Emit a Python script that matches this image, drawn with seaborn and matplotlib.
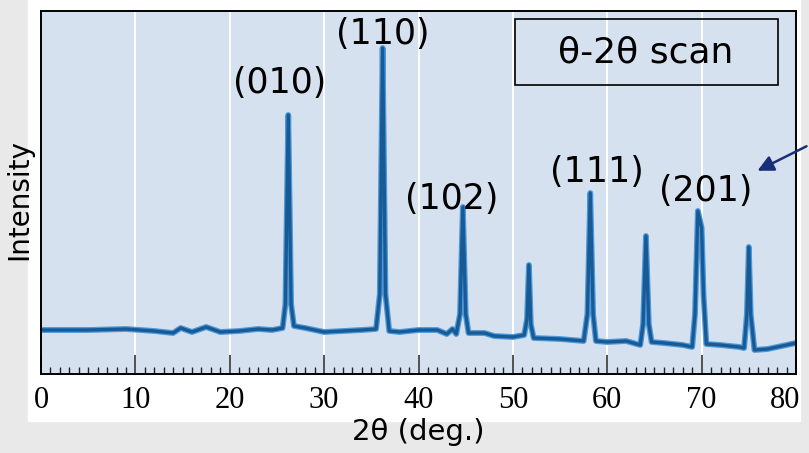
import matplotlib
matplotlib.use("Agg")
import matplotlib.pyplot as plt
import matplotlib.patheffects as pe
from matplotlib.patches import Rectangle
from matplotlib.ticker import MultipleLocator
import seaborn as sns

# XRD pattern (2theta in deg, intensity in arbitrary units)
two_theta = [0, 5, 9, 12, 14, 14.8, 16, 17.5, 19, 21, 23, 24.5, 25.6, 25.9, 26.2, 26.5, 26.8,
             28, 30, 32, 34, 35.5, 35.9, 36.2, 36.5, 36.9, 38, 40, 42, 43, 43.6, 44.0, 44.4,
             44.7, 45.0, 45.3, 47, 48, 50, 51.2, 51.5, 51.7, 51.9, 52.2, 55, 57.5, 57.9, 58.2,
             58.5, 58.8, 60, 62, 63.5, 63.8, 64.1, 64.4, 64.7, 66, 68, 69.0, 69.3, 69.6, 70.0,
             70.2, 70.5, 72, 74, 74.5, 74.8, 75.0, 75.2, 75.6, 77, 80]
intensity = [44, 44, 45, 43, 41, 46, 42, 47, 42, 43, 45, 44, 46, 70, 259, 70, 48,
             46, 42, 43, 44, 45, 80, 326, 80, 43, 42, 44, 44, 40, 45, 40, 60,
             167, 60, 41, 41, 38, 37, 39, 55, 109, 50, 36, 35, 33, 60, 181,
             60, 33, 32, 33, 29, 50, 138, 50, 32, 31, 29, 27, 60, 163, 146,
             80, 30, 29, 27, 26, 60, 127, 60, 24, 25, 31]

x_ticks = [0, 10, 20, 30, 40, 50, 60, 70, 80]
x_ticklabels = ["0", "10", "20", "30", "40", "50", "60", "70", "80"]

peak_labels = ["(010)", "(110)", "(102)", "(111)", "(201)"]
label_x = [25.3, 36.2, 43.5, 58.9, 70.4]
label_y = [291, 340, 175, 202, 183]

sns.set_theme(style="white")
plt.rcParams["font.family"] = ["DejaVu Sans"]
plt.rcParams["text.color"] = "black"

fig = plt.figure(figsize=(8.09, 4.53), dpi=100, facecolor="#e9e9e9")
fig.patches.append(Rectangle((28 / 809, 32 / 453), 772 / 809, 421 / 453,
                             transform=fig.transFigure, color="white", zorder=-10))
ax = fig.add_axes([41 / 809, 79 / 453, 755 / 809, 363 / 453], facecolor="#d5e1ee")

sns.lineplot(x=two_theta, y=intensity, ax=ax, color="#175a96", linewidth=2.4)
ax.lines[0].set_path_effects([pe.Stroke(linewidth=4.2, foreground="#4d98d8"), pe.Normal()])

ax.set_xlim(0, 80)
ax.set_ylim(0, 363)
ax.set_xticks(x_ticks)
# last label is drawn separately, nudged inside the frame like the original
ax.set_xticklabels(x_ticklabels[:-1] + [""], family="Liberation Serif", fontsize=22)
ax.xaxis.set_minor_locator(MultipleLocator(1))
ax.set_yticks([])
ax.grid(axis="x", color="white", linewidth=1.4)
ax.set_axisbelow(True)
ax.tick_params(axis="x", which="major", direction="in", length=13.5, width=1.1,
               color="#222222", pad=9, bottom=True, labelcolor="black")
ax.tick_params(axis="x", which="minor", direction="in", length=5, width=1.0,
               color="#222222", bottom=True)
ax.annotate(x_ticklabels[-1], xy=(x_ticks[-1], 0), xycoords=("data", "axes fraction"),
            xytext=(-8, -9), textcoords="offset points", ha="center", va="top",
            family="Liberation Serif", fontsize=22, color="black", annotation_clip=False)
for s in ax.spines.values():
    s.set_color("black")
    s.set_linewidth(1.4)

ax.set_xlabel("2θ (deg.)", fontsize=21, labelpad=2, color="black")
fig.text(19 / 809, 1 - 200 / 453, "Intensity", rotation=90, ha="center", va="center",
         fontsize=20, color="black")

for t, x, y in zip(peak_labels, label_x, label_y):
    ax.text(x, y, t, ha="center", va="center", fontsize=25, color="black")

ax.add_patch(Rectangle((0.628, 0.796), 0.348, 0.182, transform=ax.transAxes,
                       facecolor="none", edgecolor="black", linewidth=1.2))
ax.text(0.801, 0.887, "θ-2θ scan", transform=ax.transAxes, ha="center", va="center",
        fontsize=26, color="black")

ax.annotate("", xy=(755 / 809, 1 - 172 / 453), xycoords="figure fraction",
            xytext=(1.0, 1 - 145 / 453), textcoords="figure fraction",
            arrowprops=dict(arrowstyle="-|>", color="#1b2f78", lw=1.8, mutation_scale=24),
            annotation_clip=False)

fig.savefig("out.png", dpi=100, facecolor=fig.get_facecolor())
